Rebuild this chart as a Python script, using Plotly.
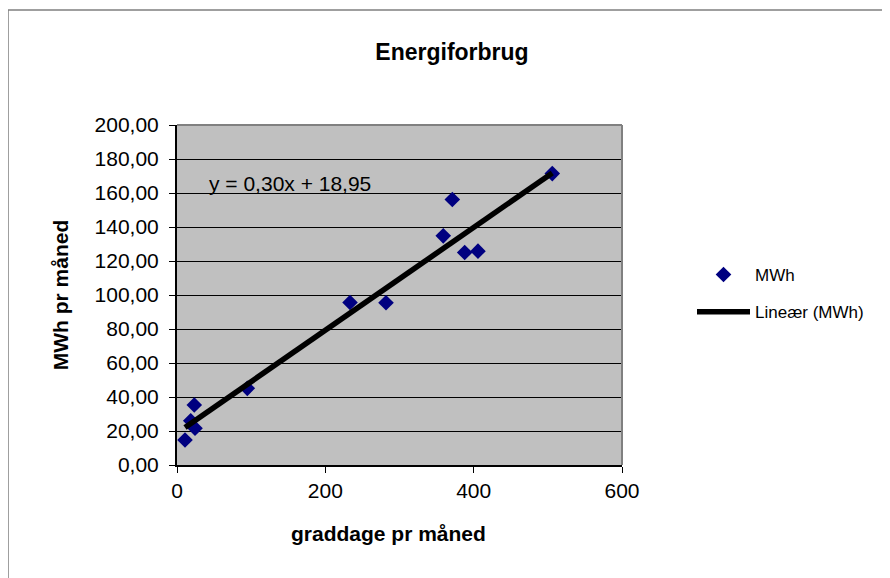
import numpy as np
import plotly.graph_objects as go

# Data
graddage = [10.8, 18.5, 24.3, 23.3, 94.8, 233.3, 281.8, 359.0, 371.2, 387.9, 405.8, 506.0]
mwh = [14.7, 26.0, 21.6, 35.3, 45.1, 95.6, 95.4, 134.8, 156.2, 125.0, 125.8, 171.4]
x_ticks = [0, 200, 400, 600]
y_ticks = [0, 20, 40, 60, 80, 100, 120, 140, 160, 180, 200]
equation_text = "y = 0,30x + 18,95"

slope, intercept = np.polyfit(graddage, mwh, 1)
trend_x = [min(graddage), max(graddage)]
trend_y = [slope * v + intercept for v in trend_x]

FONT = "Liberation Sans, Arial, sans-serif"

# page body has an 8px margin: figure is drawn 8px right/down
W, H = 882, 570
L, T = 169, 117
PW, PH = 445, 340

fig = go.Figure()
fig.add_trace(go.Scatter(
    x=graddage, y=mwh, mode="markers", name="MWh",
    marker=dict(symbol="diamond", size=12, color="#000080", line=dict(width=0)),
    legendgroup="a",
))
fig.add_trace(go.Scatter(
    x=trend_x, y=trend_y, mode="lines", name="Lineær (MWh)",
    line=dict(color="black", width=5.5),
    legendgroup="b",
))

fig.add_annotation(x=40, y=165.7, xref="x", yref="y", text=equation_text,
                   showarrow=False, xanchor="left", yanchor="middle",
                   font=dict(family=FONT, size=21, color="black"))

# chart frame (gray) and plot area top/right border (window px -> paper)
def px(xw):
    return (xw - 8 - L) / PW

def py(yw):
    return (T + PH - (yw - 8)) / PH

# x axis title (slightly left of plot centre, as in the reference)
fig.add_annotation(x=px(388.5), y=py(533), xref="paper", yref="paper",
                   text="<b>graddage pr måned</b>", showarrow=False,
                   xanchor="center", yanchor="middle",
                   font=dict(family=FONT, size=21, color="black"))

fig.add_shape(type="rect", xref="paper", yref="paper",
              x0=px(8), x1=px(910), y0=py(600), y1=py(10),
              line=dict(color="#808080", width=1.5), layer="below")
fig.add_shape(type="line", xref="paper", yref="paper", x0=0, x1=1, y0=1, y1=1,
              line=dict(color="#808080", width=2))
fig.add_shape(type="line", xref="paper", yref="paper", x0=1, x1=1, y0=0, y1=1,
              line=dict(color="#808080", width=2))

fig.update_layout(
    width=W, height=H,
    margin=dict(l=L, r=W - L - PW, t=T, b=H - T - PH),
    paper_bgcolor="white",
    plot_bgcolor="#C0C0C0",
    separators=", ",
    font=dict(family=FONT, color="black"),
    title=dict(text="<b>Energiforbrug</b>", x=(452 - 8) / W, xanchor="center",
               y=1 - (52 - 8) / H, yanchor="middle",
               font=dict(family=FONT, size=23, color="black")),
    showlegend=True,
    legend=dict(x=px(692), y=py(257), xanchor="left", yanchor="top",
                font=dict(family=FONT, size=17, color="black"),
                itemwidth=53,
                bgcolor="rgba(0,0,0,0)", tracegroupgap=12, traceorder="grouped"),
)
fig.update_xaxes(
    range=[0, 600], tickvals=x_ticks, showgrid=False, zeroline=False,
    showline=True, linecolor="black", linewidth=1.5,
    ticks="outside", ticklen=6, tickcolor="black", tickwidth=1,
    tickfont=dict(family=FONT, size=21, color="black"),
)
fig.update_yaxes(
    range=[0, 200], tickvals=y_ticks, tickformat=".2f",
    showgrid=True, gridcolor="black", gridwidth=1, zeroline=False,
    showline=True, linecolor="black", linewidth=2,
    ticks="outside", ticklen=6, tickcolor="black", tickwidth=1,
    ticklabelstandoff=6,
    tickfont=dict(family=FONT, size=21, color="black"),
    title=dict(text="<b>MWh pr måned</b>", standoff=20,
               font=dict(family=FONT, size=21, color="black")),
)

fig.write_html("out.html")
